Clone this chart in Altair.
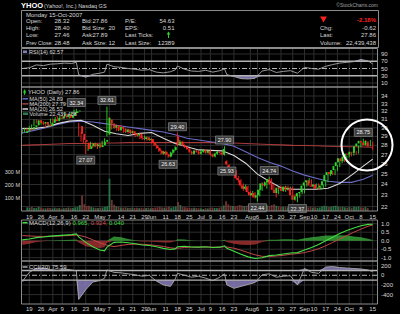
import altair as alt
import pandas as pd

FONT = "Liberation Sans"

# ---------------- data ----------------
opens = [29.4, 29.6, 29.9, 29.8, 30.1, 30.3, 30.9, 30.6, 30.5, 30.7,
         30.4, 30.2, 30.6, 31.0, 30.8, 31.2, 31.1, 31.4, 31.3, 31.6,
         31.2, 31.5, 31.8, 32.0, 30.2, 29.3, 28.6, 28.3, 27.6, 27.9,
         28.2, 27.9, 28.1, 27.8, 28.0, 28.4, 29.2, 31.0, 30.5, 30.0,
         30.3, 29.7, 30.1, 29.9, 29.5, 29.8, 29.4, 29.6, 29.3, 29.1,
         29.3, 28.8, 28.7, 28.9, 28.6, 28.7, 28.3, 28.0, 27.7, 27.4,
         27.1, 27.3, 27.0, 26.8, 27.2, 27.5, 29.0, 28.1, 28.4, 28.0,
         27.8, 27.6, 27.3, 27.1, 27.4, 27.3, 27.1, 27.3, 27.5, 27.2,
         27.4, 27.0, 26.8, 27.1, 27.3, 27.2, 27.0, 26.3, 25.9, 25.5,
         25.1, 25.3, 24.6, 24.4, 23.9, 23.6, 23.8, 23.3, 23.0, 23.2,
         22.8, 23.0, 23.5, 24.1, 23.9, 24.2, 24.5, 24.0, 23.5, 23.2,
         23.7, 23.6, 23.4, 23.8, 23.5, 23.7, 23.0, 22.6, 22.9, 23.2,
         23.3, 23.9, 24.2, 24.4, 23.9, 23.8, 24.0, 23.6, 23.7, 23.9,
         24.3, 24.9, 25.2, 25.0, 25.4, 25.8, 26.2, 26.6, 26.3, 26.8,
         27.1, 27.0, 27.3, 27.2, 27.9, 28.2, 28.5, 28.3, 28.0, 28.32]
highs = [29.8, 30.0, 30.0, 30.2, 30.4, 31.0, 31.0, 30.8, 30.9, 30.8,
         30.5, 30.7, 31.1, 31.1, 31.3, 31.4, 31.5, 31.6, 31.8, 31.7,
         31.6, 31.9, 32.2, 32.34, 30.6, 29.5, 28.9, 28.5, 28.1, 28.4,
         28.3, 28.3, 28.2, 28.2, 28.5, 28.8, 32.61, 31.3, 30.7, 30.5,
         30.4, 30.2, 30.3, 30.0, 29.9, 29.9, 29.7, 29.7, 29.4, 29.4,
         29.4, 29.0, 29.1, 29.0, 28.9, 28.8, 28.4, 28.1, 27.8, 27.5,
         27.4, 27.4, 27.1, 27.3, 27.6, 27.9, 29.40, 28.6, 28.5, 28.1,
         27.9, 27.7, 27.4, 27.5, 27.5, 27.4, 27.4, 27.6, 27.6, 27.5,
         27.5, 27.1, 27.2, 27.4, 27.4, 27.3, 27.90, 26.4, 26.0, 25.7,
         25.5, 25.4, 24.8, 24.5, 24.1, 24.0, 23.9, 23.4, 23.4, 23.3,
         23.1, 23.6, 24.2, 24.3, 24.3, 24.74, 24.6, 24.1, 23.6, 23.8,
         23.9, 23.7, 23.9, 23.9, 23.8, 23.8, 23.1, 23.0, 23.3, 23.5,
         24.0, 24.3, 24.6, 24.5, 24.0, 24.1, 24.1, 23.8, 24.0, 24.4,
         25.0, 25.3, 25.3, 25.5, 25.9, 26.3, 26.7, 26.7, 26.9, 27.2,
         27.2, 27.4, 27.4, 28.0, 28.3, 28.75, 28.6, 28.5, 28.6, 28.40]
lows = [29.3, 29.5, 29.5, 29.7, 29.9, 30.2, 30.5, 30.3, 30.4, 30.3,
        30.0, 30.1, 30.5, 30.6, 30.7, 31.0, 31.0, 31.1, 31.2, 31.1,
        31.1, 31.4, 31.7, 31.8, 29.0, 28.4, 28.2, 27.07, 27.4, 27.8,
        27.7, 27.8, 27.6, 27.7, 27.9, 28.3, 29.0, 30.3, 29.8, 29.9,
        29.6, 29.6, 29.8, 29.4, 29.4, 29.3, 29.3, 29.2, 28.9, 29.0,
        28.7, 28.6, 28.6, 28.5, 28.5, 28.2, 27.9, 27.6, 27.3, 27.0,
        27.0, 26.9, 26.63, 26.7, 27.1, 27.4, 27.9, 28.0, 27.9, 27.7,
        27.5, 27.2, 27.0, 27.0, 27.2, 27.0, 27.0, 27.2, 27.1, 27.1,
        26.9, 26.7, 26.7, 27.0, 27.1, 26.9, 26.9, 25.93, 25.3, 25.0,
        25.0, 24.5, 24.2, 23.8, 23.4, 23.5, 23.2, 22.9, 22.9, 22.7,
        22.44, 22.9, 23.4, 23.8, 23.6, 24.1, 23.9, 23.4, 22.8, 23.1,
        23.5, 23.3, 23.3, 23.4, 23.4, 22.9, 22.5, 22.37, 22.8, 23.1,
        23.2, 23.8, 24.1, 23.8, 23.6, 23.7, 23.5, 23.5, 23.6, 23.8,
        24.2, 24.8, 24.9, 24.9, 25.3, 25.7, 26.1, 26.2, 26.2, 26.7,
        26.8, 26.9, 27.0, 27.1, 27.8, 28.1, 28.1, 27.9, 27.9, 27.46]
closes = [29.6, 29.9, 29.7, 30.1, 30.3, 30.9, 30.6, 30.5, 30.7, 30.4,
          30.2, 30.6, 31.0, 30.8, 31.2, 31.1, 31.4, 31.3, 31.6, 31.2,
          31.5, 31.8, 32.0, 32.1, 29.3, 28.6, 28.4, 27.6, 27.9, 28.2,
          27.9, 28.1, 27.8, 28.0, 28.4, 28.6, 31.2, 30.5, 30.0, 30.3,
          29.7, 30.1, 29.9, 29.5, 29.8, 29.4, 29.6, 29.3, 29.1, 29.3,
          28.8, 28.7, 28.9, 28.6, 28.7, 28.3, 28.0, 27.7, 27.4, 27.1,
          27.3, 27.0, 26.8, 27.2, 27.5, 27.8, 28.1, 28.4, 28.0, 27.8,
          27.6, 27.3, 27.1, 27.4, 27.3, 27.1, 27.3, 27.5, 27.2, 27.4,
          27.0, 26.8, 27.1, 27.3, 27.2, 27.0, 27.6, 26.0, 25.5, 25.1,
          25.3, 24.6, 24.4, 23.9, 23.6, 23.8, 23.3, 23.0, 23.2, 22.8,
          23.0, 23.5, 24.1, 23.9, 24.2, 24.5, 24.0, 23.5, 23.2, 23.7,
          23.6, 23.4, 23.8, 23.5, 23.7, 23.0, 22.6, 22.9, 23.2, 23.3,
          23.9, 24.2, 24.4, 23.9, 23.8, 24.0, 23.6, 23.7, 23.9, 24.3,
          24.9, 25.2, 25.0, 25.4, 25.8, 26.2, 26.6, 26.3, 26.8, 27.1,
          27.0, 27.3, 27.2, 27.9, 28.2, 28.5, 28.3, 28.0, 28.48, 27.86]
volumes = [28, 25, 30, 22, 24, 32, 26, 21, 20, 24,
           22, 19, 25, 20, 23, 18, 21, 22, 26, 24,
           23, 28, 30, 45, 118, 52, 38, 40, 30, 26,
           24, 22, 25, 27, 30, 35, 245, 85, 48, 36,
           30, 27, 25, 28, 24, 22, 26, 23, 25, 22,
           24, 20, 22, 25, 21, 23, 26, 28, 30, 27,
           25, 28, 32, 26, 30, 34, 68, 45, 32, 28,
           26, 24, 22, 25, 23, 21, 20, 15, 22, 20,
           24, 26, 23, 22, 25, 30, 42, 75, 50, 40,
           38, 36, 40, 45, 42, 38, 40, 45, 38, 42,
           48, 40, 44, 38, 35, 42, 38, 45, 52, 40,
           34, 30, 32, 30, 28, 35, 40, 44, 36, 30,
           38, 34, 30, 28, 30, 26, 28, 25, 27, 34,
           40, 36, 30, 32, 38, 40, 34, 30, 32, 28,
           26, 30, 25, 32, 30, 34, 28, 26, 30, 22.44]

ma_idx = [0, 5, 10, 15, 20, 25, 30, 35, 40, 45, 50, 55, 60, 65, 70, 75, 80,
          85, 90, 95, 100, 105, 110, 115, 120, 125, 130, 135, 140, 145, 149]
ma20 = [29.9, 29.9, 30.1, 30.5, 30.8, 30.9, 30.3, 29.6, 29.3, 29.1, 29.35,
        29.45, 28.8, 28.2, 27.85, 27.5, 27.45, 27.4, 26.9, 26.1, 25.0, 24.3,
        23.7, 23.55, 23.55, 23.55, 23.65, 24.1, 24.9, 25.8, 26.52]
ma50 = [29.4, 29.7, 30.0, 30.4, 30.7, 30.8, 30.7, 30.5, 30.3, 30.1, 29.9,
        29.7, 29.5, 29.2, 28.8, 28.6, 28.4, 28.2, 27.9, 27.3, 26.7, 26.2,
        25.8, 25.3, 24.9, 24.6, 24.3, 24.2, 24.2, 24.5, 24.89]
ma200 = [28.0, 28.05, 28.1, 28.15, 28.2, 28.2, 28.2, 28.25, 28.25, 28.3,
         28.3, 28.3, 28.3, 28.3, 28.3, 28.3, 28.3, 28.25, 28.25, 28.2, 28.15,
         28.1, 28.05, 28.0, 27.98, 27.95, 27.9, 27.87, 27.85, 27.82, 27.79]

ind_idx = [0, 3, 6, 9, 12, 15, 18, 21, 23, 24, 27, 30, 33, 35, 36, 39, 42,
           45, 48, 51, 54, 57, 60, 63, 65, 66, 69, 72, 75, 78, 81, 84, 86,
           87, 90, 93, 96, 99, 102, 105, 108, 111, 114, 117, 120, 123, 126,
           129, 132, 135, 138, 141, 144, 147, 149]
rsi = [50, 52, 60, 58, 62, 63, 65, 64, 67, 33, 26, 34, 37, 40, 62, 55, 53,
       50, 48, 45, 47, 40, 38, 41, 46, 57, 48, 43, 42, 45, 40, 44, 49, 33,
       28, 22, 21, 23, 43, 47, 39, 42, 44, 37, 53, 50, 48, 56, 61, 65, 67,
       69, 75, 71, 62.57]
macd = [0.05, 0.1, 0.18, 0.22, 0.27, 0.3, 0.33, 0.36, 0.4, 0.22, -0.1,
        -0.35, -0.55, -0.6, -0.38, -0.1, -0.08, -0.12, -0.18, -0.25, -0.28,
        -0.36, -0.45, -0.52, -0.48, -0.36, -0.33, -0.37, -0.38, -0.36, -0.4,
        -0.38, -0.3, -0.45, -0.62, -0.8, -0.95, -1.05, -1.0, -0.88, -0.84,
        -0.78, -0.72, -0.7, -0.55, -0.4, -0.22, 0.0, 0.2, 0.42, 0.6, 0.75,
        0.88, 0.96, 0.965]
signal = [0.3, 0.28, 0.26, 0.25, 0.26, 0.27, 0.29, 0.31, 0.33, 0.32, 0.22,
          0.05, -0.12, -0.22, -0.26, -0.35, -0.28, -0.22, -0.2, -0.21, -0.24,
          -0.28, -0.34, -0.42, -0.45, -0.44, -0.4, -0.38, -0.38, -0.37,
          -0.38, -0.38, -0.36, -0.37, -0.44, -0.56, -0.7, -0.83, -0.92,
          -0.93, -0.9, -0.86, -0.8, -0.76, -0.7, -0.6, -0.47, -0.3, -0.1,
          0.1, 0.3, 0.5, 0.68, 0.85, 0.924]
hist = [-0.25, -0.18, -0.08, -0.03, 0.01, 0.03, 0.04, 0.05, 0.07, -0.1,
        -0.32, -0.4, -0.43, -0.38, -0.12, 0.25, 0.2, 0.1, 0.02, -0.04, -0.04,
        -0.08, -0.11, -0.1, -0.03, 0.08, 0.07, 0.01, 0.0, 0.01, -0.02, 0.0,
        0.06, -0.08, -0.18, -0.24, -0.25, -0.22, -0.08, 0.05, 0.06, 0.08,
        0.08, 0.06, 0.15, 0.2, 0.25, 0.3, 0.3, 0.32, 0.3, 0.25, 0.2, 0.11,
        0.04]
cci = [-130, 60, 145, 150, 120, 100, 130, 110, 90, -500, -300, -140, -110,
       -60, 110, 60, 50, 30, 10, -20, 0, -120, -200, -230, -80, 40, 0, -40,
       -20, -60, -110, -40, 30, -200, -270, -230, -190, -150, 10, 30, -40,
       -20, -10, -200, 140, 60, 40, 170, 180, 160, 150, 140, 130, 110, 75.59]

ann_idx = [23, 27, 36, 62, 66, 86, 87, 100, 105, 117, 145]
ann_val = [32.34, 27.07, 32.61, 26.63, 29.40, 27.90, 25.93, 22.44, 24.74, 22.37, 28.75]
ann_txt = ["32.34", "27.07", "32.61", "26.63", "29.40", "27.90", "25.93",
           "22.44", "24.74", "22.37", "28.75"]
ann_side = ["up", "dn", "up", "dn", "up", "up", "dn", "dn", "up", "dn", "up"]

tick_idx = [3, 8, 13, 17, 22, 27, 33, 37, 42, 47, 52, 55, 61, 66, 71, 76, 80,
            85, 90, 97, 100, 105, 110, 115, 120, 124, 129, 134, 139, 144, 149]
tick_txt = ["19", "26", "Apr", "9", "16", "23", "May", "7", "14", "21", "29",
            "Jun", "11", "18", "25", "Jul", "9", "16", "23", "Aug", "6", "13",
            "20", "27", "Sep", "10", "17", "24", "Oct", "8", "15"]
price_ticks = [22, 23, 24, 25, 26, 27, 28, 29, 30, 31, 32, 33, 34]
rsi_ticks = [90, 70, 50, 30, 10]
macd_ticks = [1.0, 0.5, 0.0, -0.5, -1.0]
macd_labels = ["1.0", "0.5", "0.0", "-0.5", "-1.0"]
cci_ticks = [200, 0, -200, -400]
vol_ticks = [100, 200, 300]

# ---------------- styling ----------------
BG = "#000000"
GRID = "#2e2e2e"
BORDER = "#8c8c8c"
TXT = "#d8d8d8"
GREEN = "#2bd62b"
RED = "#ff2020"
VOLG = "#2c7a4c"
VOLR = "#7c3838"
C50 = "#6b6bc4"
C200 = "#a83a3a"
C20 = "#d9d9d9"
LAV = "#8a7cb8"
LIGHT = "#b4b4b4"

X = alt.Scale(domain=[0, 149], range=[22.24, 372.7], nice=False, zero=False)
PRICE = alt.Scale(type="log", domain=[21.62, 35.23], range=[211, 87], nice=False)
VOL = alt.Scale(domain=[0, 300], range=[211, 171.5], nice=False)
RSIS = alt.Scale(domain=[0, 100], range=[86.6, 50.4], nice=False)
MACDS = alt.Scale(domain=[-1, 1], range=[257.7, 223.7], nice=False, zero=False)
CCIS = alt.Scale(domain=[-400, 200], range=[294.6, 265.6], nice=False, zero=False)

ONE = alt.Data(values=[{"k": 1}])
layers = []


def xenc():
    return alt.X("i:Q", scale=X, axis=None)


def text(x, y, s, color=TXT, size=6, align="left", weight="normal"):
    return alt.Chart(ONE).mark_text(font=FONT, fontSize=size, align=align, baseline="middle",
                                    fontWeight=weight, color=color).encode(
        x=alt.value(x), y=alt.value(y), text=alt.value(s))


def rule(x1, y1, x2, y2, color, width=1.0, dash=None):
    kw = dict(color=color, strokeWidth=width)
    if dash:
        kw["strokeDash"] = dash
    return alt.Chart(ONE).mark_rule(**kw).encode(
        x=alt.value(x1), y=alt.value(y1), x2=alt.value(x2), y2=alt.value(y2))


def frame(x1, y1, x2, y2, stroke=BORDER, width=1.0):
    return alt.Chart(ONE).mark_rect(fillOpacity=0, stroke=stroke, strokeWidth=width).encode(
        x=alt.value(x1), y=alt.value(y1), x2=alt.value(x2), y2=alt.value(y2))


def hgrid(vals, scale, color=GRID, width=1.0, dash=None):
    kw = dict(color=color, strokeWidth=width)
    if dash:
        kw["strokeDash"] = dash
    return alt.Chart(pd.DataFrame({"v": vals})).mark_rule(**kw).encode(
        y=alt.Y("v:Q", scale=scale, axis=None), x=alt.value(22), x2=alt.value(377))


def ylabels(vals, labels, scale, x=381, align="left", size=6):
    return alt.Chart(pd.DataFrame({"v": vals, "t": labels})).mark_text(
        font=FONT, fontSize=size, align=align, baseline="middle", color=TXT).encode(
        y=alt.Y("v:Q", scale=scale, axis=None), x=alt.value(x), text="t:N")


ticks_df = pd.DataFrame({"i": tick_idx, "t": tick_txt})

# ---------------- header / info box ----------------
layers.append(text(21, 5.5, "YHOO", color="#ffffff", size=7.5, weight="bold"))
layers.append(text(44, 5.5, "(Yahoo!, Inc.) Nasdaq GS", color=TXT, size=5.5))
layers.append(text(378, 5, "©StockCharts.com", color="#a0a0a0", size=5, align="right"))
layers.append(frame(21.5, 10.5, 378.5, 47.5))
layers.append(text(26, 14.5, "Monday 15-Oct-2007", size=6))

info_rows = [21, 28, 35, 42.5]
col1 = ["Open:", "High:", "Low:", "Prev Close:"]
val1 = ["28.32", "28.40", "27.46", "28.48"]
col2 = ["Bid:", "Bid Size:", "Ask:", "Ask Size:"]
val2 = ["27.86", "20", "27.89", "12"]
col3 = ["P/E:", "EPS:", "Last Ticks:", "Last Size:"]
val3 = ["54.63", "0.51", "", "12389"]
col4 = ["", "Chg:", "Last:", "Volume:"]
val4 = ["-2.18%", "-0.62", "27.86", "22,439,438"]
for r, y in enumerate(info_rows):
    layers.append(text(26, y, col1[r], size=(5.2 if r == 3 else 6)))
    layers.append(text(69.5, y, val1[r], align="right"))
    layers.append(text(82, y, col2[r]))
    if r % 2 == 0:
        layers.append(text(107.5, y, val2[r], align="right"))
    else:
        layers.append(text(108.5, y, val2[r], align="left"))
    layers.append(text(125, y, col3[r]))
    if val3[r]:
        layers.append(text(174.5, y, val3[r], align="right"))
    if col4[r]:
        layers.append(text(320, y, col4[r]))
    layers.append(text(376, y - (1 if r == 0 else 0), val4[r], align="right",
                       color=(RED if r == 0 else TXT), weight=("bold" if r == 0 else "normal")))
# last tick arrow and change triangle
layers.append(rule(168.5, 33, 168.5, 38, GREEN, 1))
layers.append(alt.Chart(ONE).mark_point(shape="triangle-up", filled=True, size=14, color=GREEN, opacity=1).encode(
    x=alt.value(168.5), y=alt.value(33)))
layers.append(alt.Chart(ONE).mark_point(shape="triangle-down", filled=True, size=45, color=RED, opacity=1).encode(
    x=alt.value(323.5), y=alt.value(19.5)))

# ---------------- grids ----------------
panels = [(48.5, 87), (87, 211), (220, 261), (261, 304)]
for top, bot in panels:
    layers.append(alt.Chart(ticks_df).mark_rule(color=GRID, strokeWidth=1).encode(
        x=xenc(), y=alt.value(top), y2=alt.value(bot)))
layers.append(hgrid([90, 10], RSIS))
layers.append(hgrid(price_ticks, PRICE))
layers.append(hgrid(macd_ticks, MACDS))
layers.append(hgrid([200, -200, -400], CCIS))

# ---------------- RSI panel ----------------
rsi_df = pd.DataFrame({"i": ind_idx, "v": rsi})
rsi_df["hi"] = rsi_df["v"].clip(lower=70)
rsi_df["lo"] = rsi_df["v"].clip(upper=30)
rsi_df["b70"] = 70
rsi_df["b30"] = 30
layers.append(alt.Chart(rsi_df).mark_area(color=LAV, opacity=0.85).encode(
    x=xenc(), y=alt.Y("hi:Q", scale=RSIS, axis=None), y2="b70:Q"))
layers.append(alt.Chart(rsi_df).mark_area(color=LAV, opacity=0.85).encode(
    x=xenc(), y=alt.Y("lo:Q", scale=RSIS, axis=None), y2="b30:Q"))
layers.append(hgrid([70, 30], RSIS, color=LIGHT, width=1.4))
layers.append(hgrid([50], RSIS, color=LIGHT, width=1, dash=[5, 2, 1, 2]))
layers.append(alt.Chart(rsi_df).mark_line(color="#a8a8a8", strokeWidth=0.9).encode(
    x=xenc(), y=alt.Y("v:Q", scale=RSIS, axis=None)))
layers.append(ylabels(rsi_ticks, [str(t) for t in rsi_ticks], RSIS))
layers.append(alt.Chart(ONE).mark_rect(color=LAV).encode(
    x=alt.value(23), x2=alt.value(27), y=alt.value(50.5), y2=alt.value(53)))
layers.append(text(29, 52, "RSI(14) 62.57", size=5.5))

# ---------------- price panel ----------------
cdf = pd.DataFrame({"i": list(range(len(closes))), "o": opens, "h": highs,
                    "l": lows, "c": closes, "vol": volumes})
cdf["dir"] = ["up" if c >= o else "dn" for o, c in zip(opens, closes)]
cdf["top"] = [max(o, c) for o, c in zip(opens, closes)]
cdf["bot"] = [min(o, c) for o, c in zip(opens, closes)]
dir_scale = alt.Scale(domain=["up", "dn"], range=[GREEN, RED])
vol_scale = alt.Scale(domain=["up", "dn"], range=[VOLG, VOLR])

layers.append(alt.Chart(cdf).mark_bar(size=1.8, opacity=0.9).encode(
    x=xenc(), y=alt.Y("vol:Q", scale=VOL, axis=None),
    color=alt.Color("dir:N", scale=vol_scale, legend=None)))
layers.append(ylabels(vol_ticks, [f"{t} M" for t in vol_ticks], VOL, x=20, align="right", size=5.5))

ma_df = pd.DataFrame({"i": ma_idx, "m20": ma20, "m50": ma50, "m200": ma200})
for col, colr in [("m200", C200), ("m50", C50), ("m20", C20)]:
    layers.append(alt.Chart(ma_df).mark_line(color=colr, strokeWidth=1.1).encode(
        x=xenc(), y=alt.Y(f"{col}:Q", scale=PRICE, axis=None)))

layers.append(alt.Chart(cdf).mark_rule(strokeWidth=0.9).encode(
    x=xenc(), y=alt.Y("l:Q", scale=PRICE, axis=None), y2="h:Q",
    color=alt.Color("dir:N", scale=dir_scale, legend=None)))
layers.append(alt.Chart(cdf).mark_bar(size=1.9).encode(
    x=xenc(), y=alt.Y("top:Q", scale=PRICE, axis=None), y2="bot:Q",
    color=alt.Color("dir:N", scale=dir_scale, legend=None)))

ann_df = pd.DataFrame({"i": ann_idx, "v": ann_val, "t": ann_txt, "s": ann_side})
BOX_UP = "M-0.82,-0.93H0.82V-0.2H-0.82Z"
BOX_DN = "M-0.82,0.2H0.82V0.93H-0.82Z"
for side, path, dy in [("up", BOX_UP, -6.2), ("dn", BOX_DN, 6.2)]:
    sub = ann_df[ann_df["s"] == side]
    layers.append(alt.Chart(sub).mark_point(shape=path, size=484, filled=True, fill="#3c3c3c",
                                            stroke="#9a9a9a", strokeWidth=0.6, opacity=1).encode(
        x=xenc(), y=alt.Y("v:Q", scale=PRICE, axis=None)))
    layers.append(alt.Chart(sub).mark_text(font=FONT, fontSize=5.5, dy=dy, color="#f0f0f0",
                                           baseline="middle").encode(
        x=xenc(), y=alt.Y("v:Q", scale=PRICE, axis=None), text="t:N"))

layers.append(ylabels(price_ticks, [str(t) for t in price_ticks], PRICE))

# legend of the price panel
layers.append(rule(24.5, 89.5, 24.5, 95, GREEN, 0.8))
layers.append(alt.Chart(ONE).mark_rect(color=GREEN).encode(
    x=alt.value(23.5), x2=alt.value(25.7), y=alt.value(90.5), y2=alt.value(93.5)))
layers.append(text(28, 92.3, "YHOO (Daily) 27.86", size=5.8))
for y, colr, s in [(98.8, C50, "MA(50) 24.89"), (103.9, C200, "MA(200) 27.79"),
                   (109, C20, "MA(20) 26.52")]:
    layers.append(rule(22.5, y, 28, y, colr, 1.5))
    layers.append(text(29.5, y, s, size=5.5))
layers.append(alt.Chart(ONE).mark_rect(color=VOLG).encode(
    x=alt.value(23), x2=alt.value(28), y=alt.value(112.5), y2=alt.value(115)))
layers.append(text(29.5, 113.8, "Volume 22,439,438", size=5.5))

# ---------------- MACD panel ----------------
mdf = pd.DataFrame({"i": ind_idx, "m": macd, "s": signal, "h": hist})
mdf["pos"] = mdf["h"].clip(lower=0)
mdf["neg"] = mdf["h"].clip(upper=0)
mdf["zero"] = 0.0
layers.append(alt.Chart(mdf).mark_area(color="#3fbf3f", opacity=0.7).encode(
    x=xenc(), y=alt.Y("pos:Q", scale=MACDS, axis=None), y2="zero:Q"))
layers.append(alt.Chart(mdf).mark_area(color="#c23a3a", opacity=0.7).encode(
    x=xenc(), y=alt.Y("neg:Q", scale=MACDS, axis=None), y2="zero:Q"))
layers.append(alt.Chart(mdf).mark_line(color="#c04848", strokeWidth=1).encode(
    x=xenc(), y=alt.Y("s:Q", scale=MACDS, axis=None)))
layers.append(alt.Chart(mdf).mark_line(color="#44dd44", strokeWidth=1.1).encode(
    x=xenc(), y=alt.Y("m:Q", scale=MACDS, axis=None)))
layers.append(ylabels(macd_ticks, macd_labels, MACDS))
layers.append(rule(22.5, 222.7, 27.5, 222.7, "#44dd44", 1.5))
layers.append(text(29, 222.7, "MACD(12,26,9)", size=6))
layers.append(text(72.4, 222.7, "0.965,", size=6, color="#44dd44"))
layers.append(text(90.7, 222.7, "0.924,", size=6, color="#d05050"))
layers.append(text(109, 222.7, "0.040", size=6, color="#44dd44"))

# ---------------- CCI panel ----------------
cdf2 = pd.DataFrame({"i": ind_idx, "v": cci})
cdf2["hi"] = cdf2["v"].clip(lower=100)
cdf2["lo"] = cdf2["v"].clip(upper=-100)
cdf2["b1"] = 100
cdf2["b2"] = -100
layers.append(alt.Chart(cdf2).mark_area(color=LAV, opacity=0.85).encode(
    x=xenc(), y=alt.Y("hi:Q", scale=CCIS, axis=None), y2="b1:Q"))
layers.append(alt.Chart(cdf2).mark_area(color=LAV, opacity=0.85).encode(
    x=xenc(), y=alt.Y("lo:Q", scale=CCIS, axis=None), y2="b2:Q"))
layers.append(hgrid([100, -100], CCIS, color=LIGHT, width=1.4))
layers.append(hgrid([0], CCIS, color=LIGHT, width=1, dash=[5, 2, 1, 2]))
layers.append(alt.Chart(cdf2).mark_line(color="#a8a8a8", strokeWidth=0.9).encode(
    x=xenc(), y=alt.Y("v:Q", scale=CCIS, axis=None)))
layers.append(ylabels(cci_ticks, [str(t) for t in cci_ticks], CCIS))
layers.append(rule(22.5, 267, 27.5, 267, "#a8a8a8", 1.5))
layers.append(text(29, 267, "CCI(20) 75.59", size=6))

# ---------------- x labels ----------------
for y in (217, 309):
    layers.append(alt.Chart(ticks_df).mark_text(font=FONT, fontSize=6, color=TXT, baseline="middle").encode(
        x=xenc(), y=alt.value(y), text="t:N"))

# ---------------- frames ----------------
for top, bot in panels:
    layers.append(frame(21.5, top, 377.5, bot))

# ---------------- annotation circle ----------------
layers.append(alt.Chart(ONE).mark_point(shape="circle", size=2600, filled=False, color="#ffffff",
                                        strokeWidth=2, opacity=1).encode(
    x=alt.value(367), y=alt.value(145)))

chart = alt.layer(*layers).resolve_scale(
    x="independent", y="independent", color="independent"
).properties(
    width=400, height=314, background=BG, padding=0,
    autosize=alt.AutoSizeParams(type="none")
).configure_view(stroke=None)

chart.save("out.html", embed_options={"renderer": "svg", "actions": False})
